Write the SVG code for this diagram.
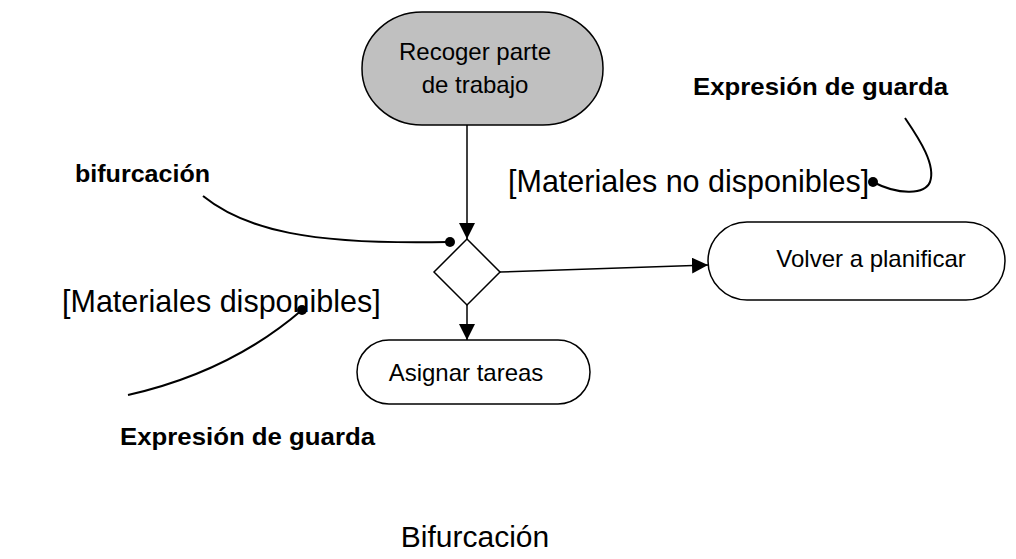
<svg xmlns="http://www.w3.org/2000/svg" width="1016" height="559" viewBox="0 0 1016 559">
<defs>
<style>
.node{fill:#fff;stroke:#000;stroke-width:1.5}
.start{fill:#c0c0c0;stroke:#000;stroke-width:1.5}
.lbl{font-family:"Liberation Sans",Arial,sans-serif;font-size:24px;fill:#000;text-anchor:middle}
.guard{font-family:"Liberation Sans",Arial,sans-serif;font-size:30.5px;fill:#000}
.note{font-family:"Liberation Sans",Arial,sans-serif;font-size:24px;font-weight:bold;fill:#000}
.title{font-family:"Liberation Sans",Arial,sans-serif;font-size:30px;fill:#000;text-anchor:middle}
.edge{fill:none;stroke:#000;stroke-width:1.5}
.lead{fill:none;stroke:#000;stroke-width:2}
</style>
<marker id="arr" viewBox="0 0 10 10" refX="10" refY="5" markerWidth="16" markerHeight="16" markerUnits="userSpaceOnUse" orient="auto">
<path d="M0,0 L10,5 L0,10 Z" fill="#000"/>
</marker>
</defs>
<g id="start">
<rect class="start" x="362" y="12" width="241" height="113" rx="60" ry="56"/>
<text class="lbl" x="475" y="60">Recoger parte</text>
<text class="lbl" x="475" y="93">de trabajo</text>
</g>
<g id="decision">
<polygon class="node" points="467,239 500,272 467,305 434,272"/>
</g>
<g id="replan">
<rect class="node" x="708" y="222" width="297" height="78" rx="39" ry="39"/>
<text class="lbl" x="871" y="267">Volver a planificar</text>
</g>
<g id="assign">
<rect class="node" x="357" y="340" width="233" height="64" rx="32" ry="32"/>
<text class="lbl" x="466" y="381">Asignar tareas</text>
</g>
<g id="connectors">
<line class="edge" x1="467" y1="125" x2="467" y2="239" marker-end="url(#arr)"/>
<line class="edge" x1="500" y1="272" x2="708" y2="265" marker-end="url(#arr)"/>
<line class="edge" x1="467" y1="305" x2="467" y2="340" marker-end="url(#arr)"/>
</g>
<g id="annotations">
<text class="note" x="75" y="182" textLength="135" lengthAdjust="spacingAndGlyphs">bifurcación</text>
<path class="lead" d="M203,196 C245,230 310,245 448,242"/>
<circle cx="450" cy="242" r="5"/>
<text class="guard" x="508" y="192">[Materiales no disponibles]</text>
<text class="note" x="693" y="95" textLength="255" lengthAdjust="spacingAndGlyphs">Expresión de guarda</text>
<path class="lead" d="M905,118 C920,140 936,165 930,182 C925,194 900,196 873,182"/>
<circle cx="873" cy="182" r="5"/>
<text class="guard" x="62" y="312">[Materiales disponibles]</text>
<path class="lead" d="M128,395 Q230,372 302,310"/>
<circle cx="302" cy="310" r="5"/>
<text class="note" x="120" y="445" textLength="255" lengthAdjust="spacingAndGlyphs">Expresión de guarda</text>
</g>
<text class="title" x="475" y="547">Bifurcación</text>
</svg>
